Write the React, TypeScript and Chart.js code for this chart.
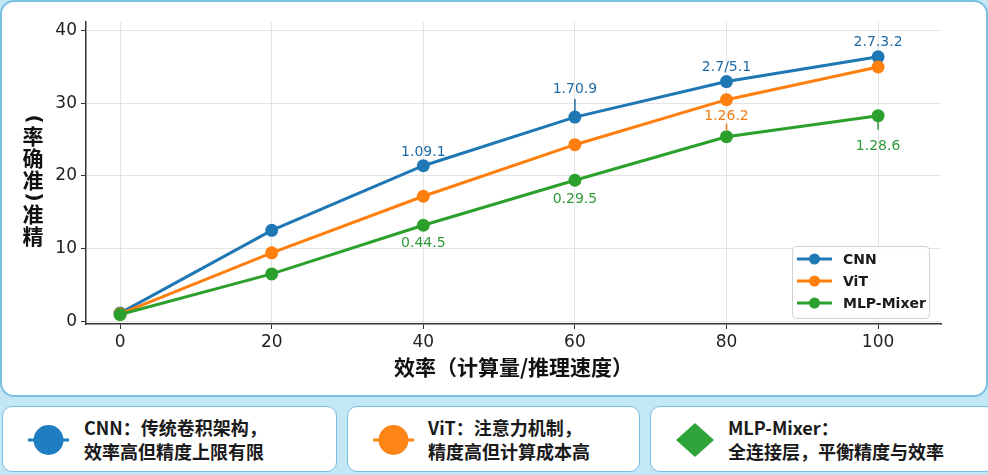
import React, { useEffect, useRef } from 'react';
import { Chart, registerables } from 'chart.js';

Chart.register(...registerables);

const xValues = [0, 20, 40, 60, 80, 100];
const cnnValues = [1.1, 12.5, 21.4, 28.1, 33.0, 36.4];
const vitValues = [1.0, 9.4, 17.2, 24.3, 30.5, 35.0];
const mlpValues = [0.9, 6.5, 13.2, 19.4, 25.4, 28.3];
const seriesNames = ['CNN', 'ViT', 'MLP-Mixer'];
const seriesColors = ['#1f77b4', '#ff7f0e', '#2ca02c'];
const annotationColors = ['#1f6aa5', '#f07d15', '#2e9a3a'];
const xTitle = '效率（计算量/推理速度）';
const yTitleChars = ['(', '率', '确', '准', ')', '准', '精'];

// annotations: series index, point index, text
const annSeries = [0, 0, 0, 0, 1, 2, 2, 2];
const annIndex = [2, 3, 4, 5, 4, 2, 3, 5];
const annText = ['1.09.1', '1.70.9', '2.7/5.1', '2.7.3.2', '1.26.2', '0.44.5', '0.29.5', '1.28.6'];
// layout of annotation labels (pixel offsets from point) and optional leader lines
const annLayout = [
  { dy: -13 },
  { dy: -28, lead: [-18, -6] },
  { dy: -14 },
  { dy: -14 },
  { dy: 17, lead: [24, 31] },
  { dy: 18 },
  { dy: 19 },
  { dy: 31, lead: [2, 14] },
];

const cardItems = [
  { name: 'CNN', line1: 'CNN：传统卷积架构，', line2: '效率高但精度上限有限', shape: 'circle', color: '#1f7ec1' },
  { name: 'ViT', line1: 'ViT：注意力机制，', line2: '精度高但计算成本高', shape: 'circle', color: '#fd8416' },
  { name: 'MLP-Mixer', line1: 'MLP-Mixer：', line2: '全连接层，平衡精度与效率', shape: 'diamond', color: '#2ea43b' },
];

const overlayPlugin = {
  id: 'overlay',
  afterDatasetsDraw(chart: any) {
    const ctx = chart.ctx;
    // annotations
    ctx.save();
    ctx.font = '14px "DejaVu Sans"';
    ctx.textAlign = 'center';
    ctx.textBaseline = 'middle';
    for (let i = 0; i < annText.length; i++) {
      const meta = chart.getDatasetMeta(annSeries[i]);
      const pt = meta.data[annIndex[i]];
      const lay = annLayout[i];
      const col = annotationColors[annSeries[i]];
      if (lay.lead) {
        ctx.strokeStyle = col;
        ctx.lineWidth = 1.5;
        ctx.beginPath();
        ctx.moveTo(pt.x, pt.y + lay.lead[0]);
        ctx.lineTo(pt.x, pt.y + lay.lead[1]);
        ctx.stroke();
      }
      ctx.fillStyle = col;
      ctx.fillText(annText[i], pt.x, pt.y + lay.dy);
    }
    ctx.restore();

    // legend
    const ca = chart.chartArea;
    const bw = 137, bh = 72;
    const bx = ca.right - 12 - bw;
    const by = ca.bottom - 6 - bh;
    ctx.save();
    ctx.beginPath();
    ctx.roundRect(bx + 0.5, by + 0.5, bw, bh, 4);
    ctx.fillStyle = 'rgba(255,255,255,0.9)';
    ctx.fill();
    ctx.strokeStyle = '#d2d2d2';
    ctx.lineWidth = 1;
    ctx.stroke();
    ctx.font = 'bold 14px "DejaVu Sans"';
    ctx.textAlign = 'left';
    ctx.textBaseline = 'middle';
    for (let i = 0; i < seriesNames.length; i++) {
      const ry = by + 13 + i * 22;
      ctx.strokeStyle = seriesColors[i];
      ctx.lineWidth = 3;
      ctx.beginPath();
      ctx.moveTo(bx + 5, ry);
      ctx.lineTo(bx + 40, ry);
      ctx.stroke();
      ctx.fillStyle = seriesColors[i];
      ctx.beginPath();
      ctx.arc(bx + 22.5, ry, 5.5, 0, Math.PI * 2);
      ctx.fill();
      ctx.fillStyle = '#1a1a1a';
      ctx.fillText(seriesNames[i], bx + 51, ry + 1);
    }
    ctx.restore();

    // y title (stacked upright characters, parentheses turned)
    ctx.save();
    ctx.textBaseline = 'middle';
    ctx.textAlign = 'center';
    ctx.fillStyle = '#111';
    let y = 113;
    const cx = 33;
    for (const ch of yTitleChars) {
      const isParen = ch === '(' || ch === ')';
      const adv = isParen ? 12 : 22;
      const cy = y + adv / 2;
      if (isParen) {
        ctx.font = 'bold 20px "DejaVu Sans"';
        ctx.save();
        ctx.translate(cx, cy);
        ctx.rotate(Math.PI / 2);
        ctx.fillText(ch, 0, 0);
        ctx.restore();
      } else {
        ctx.font = 'bold 21px "Noto Sans CJK SC"';
        ctx.fillText(ch, cx, cy);
      }
      y += adv;
    }
    ctx.restore();
  },
};

function ChartPanel() {
  const ref = useRef<HTMLCanvasElement | null>(null);
  useEffect(() => {
    if (!ref.current) return;
    const series = [cnnValues, vitValues, mlpValues];
    const chart = new Chart(ref.current, {
      type: 'line',
      data: {
        datasets: series.map((vals, i) => ({
          label: seriesNames[i],
          data: xValues.map((x, j) => ({ x, y: vals[j] })),
          borderColor: seriesColors[i],
          backgroundColor: seriesColors[i],
          pointBackgroundColor: seriesColors[i],
          pointBorderColor: seriesColors[i],
          pointBorderWidth: 0,
          pointRadius: 6.5,
          borderWidth: 3,
          tension: 0,
          order: 2 - i,
        })),
      },
      options: {
        animation: false,
        responsive: false,
        maintainAspectRatio: false,
        layout: { padding: { top: 22, right: 47, left: 0, bottom: 0 } },
        plugins: { legend: { display: false }, tooltip: { enabled: false } },
        scales: {
          x: {
            type: 'linear',
            min: -4.5,
            max: 108.3,
            afterFit: (s: any) => { s.height = 72; },
            ticks: {
              stepSize: 20,
              includeBounds: false,
              maxRotation: 0,
              padding: 3,
              color: '#222',
              font: { family: '"DejaVu Sans"', size: 17 },
            },
            grid: { color: '#e4e4e4', lineWidth: 1, tickColor: '#333', tickLength: 5 },
            border: { color: '#333', width: 1.5 },
            title: {
              display: true,
              text: xTitle,
              color: '#111',
              font: { family: '"Noto Sans CJK SC"', size: 21, weight: 'bold' },
              padding: { top: 0, bottom: 16 },
            },
          },
          y: {
            type: 'linear',
            min: -0.4,
            max: 41.2,
            afterFit: (s: any) => { s.width = 86; },
            ticks: {
              stepSize: 10,
              includeBounds: false,
              padding: 4,
              color: '#222',
              font: { family: '"DejaVu Sans"', size: 17 },
            },
            grid: { color: '#e4e4e4', lineWidth: 1, tickColor: '#333', tickLength: 5 },
            border: { color: '#333', width: 1.5 },
          },
        },
      } as any,
      plugins: [overlayPlugin],
    });
    return () => chart.destroy();
  }, []);
  return <canvas ref={ref} width={988} height={396} style={{ position: 'absolute', left: 0, top: 0, width: 988, height: 396 }} />;
}

function Icon({ shape, color }: { shape: string; color: string }) {
  if (shape === 'diamond') {
    return (
      <svg width={50} height={50} style={{ position: 'absolute', left: 19, top: 8 }}>
        <polygon points="25,8 44,25 25,42 6,25" fill={color} />
      </svg>
    );
  }
  return (
    <svg width={50} height={50} style={{ position: 'absolute', left: 20, top: 8 }}>
      <line x1={5} y1={25} x2={46} y2={25} stroke={color} strokeWidth={3} />
      <circle cx={25.5} cy={25} r={15} fill={color} />
    </svg>
  );
}

export default function App() {
  const cardLefts = [2, 347, 650];
  const cardWidths = [335, 293, 345];
  const textLefts = [81, 80, 77];
  return (
    <div style={{ position: 'fixed', left: 0, top: 0, width: 988, height: 475, background: '#c4e7f6', overflow: 'hidden' }}>
      <div style={{ position: 'absolute', left: 0, top: 0, width: 988, height: 397, boxSizing: 'border-box', background: '#fff', border: '2px solid #7cc0e2', borderRadius: 14 }} />
      <ChartPanel />
      {cardItems.map((c, i) => (
        <div key={c.name} style={{ position: 'absolute', left: cardLefts[i], top: 406, width: cardWidths[i], height: 66, boxSizing: 'border-box', background: '#fff', border: '1.5px solid #7abde0', borderRadius: 10 }}>
          <Icon shape={c.shape} color={c.color} />
          <div style={{ position: 'absolute', left: textLefts[i], top: 8, fontFamily: '"Noto Sans CJK SC", sans-serif', fontWeight: 700, fontSize: 18, lineHeight: '24px', color: '#1a1a1a', whiteSpace: 'nowrap' }}>
            <div>{c.line1}</div>
            <div>{c.line2}</div>
          </div>
        </div>
      ))}
    </div>
  );
}
